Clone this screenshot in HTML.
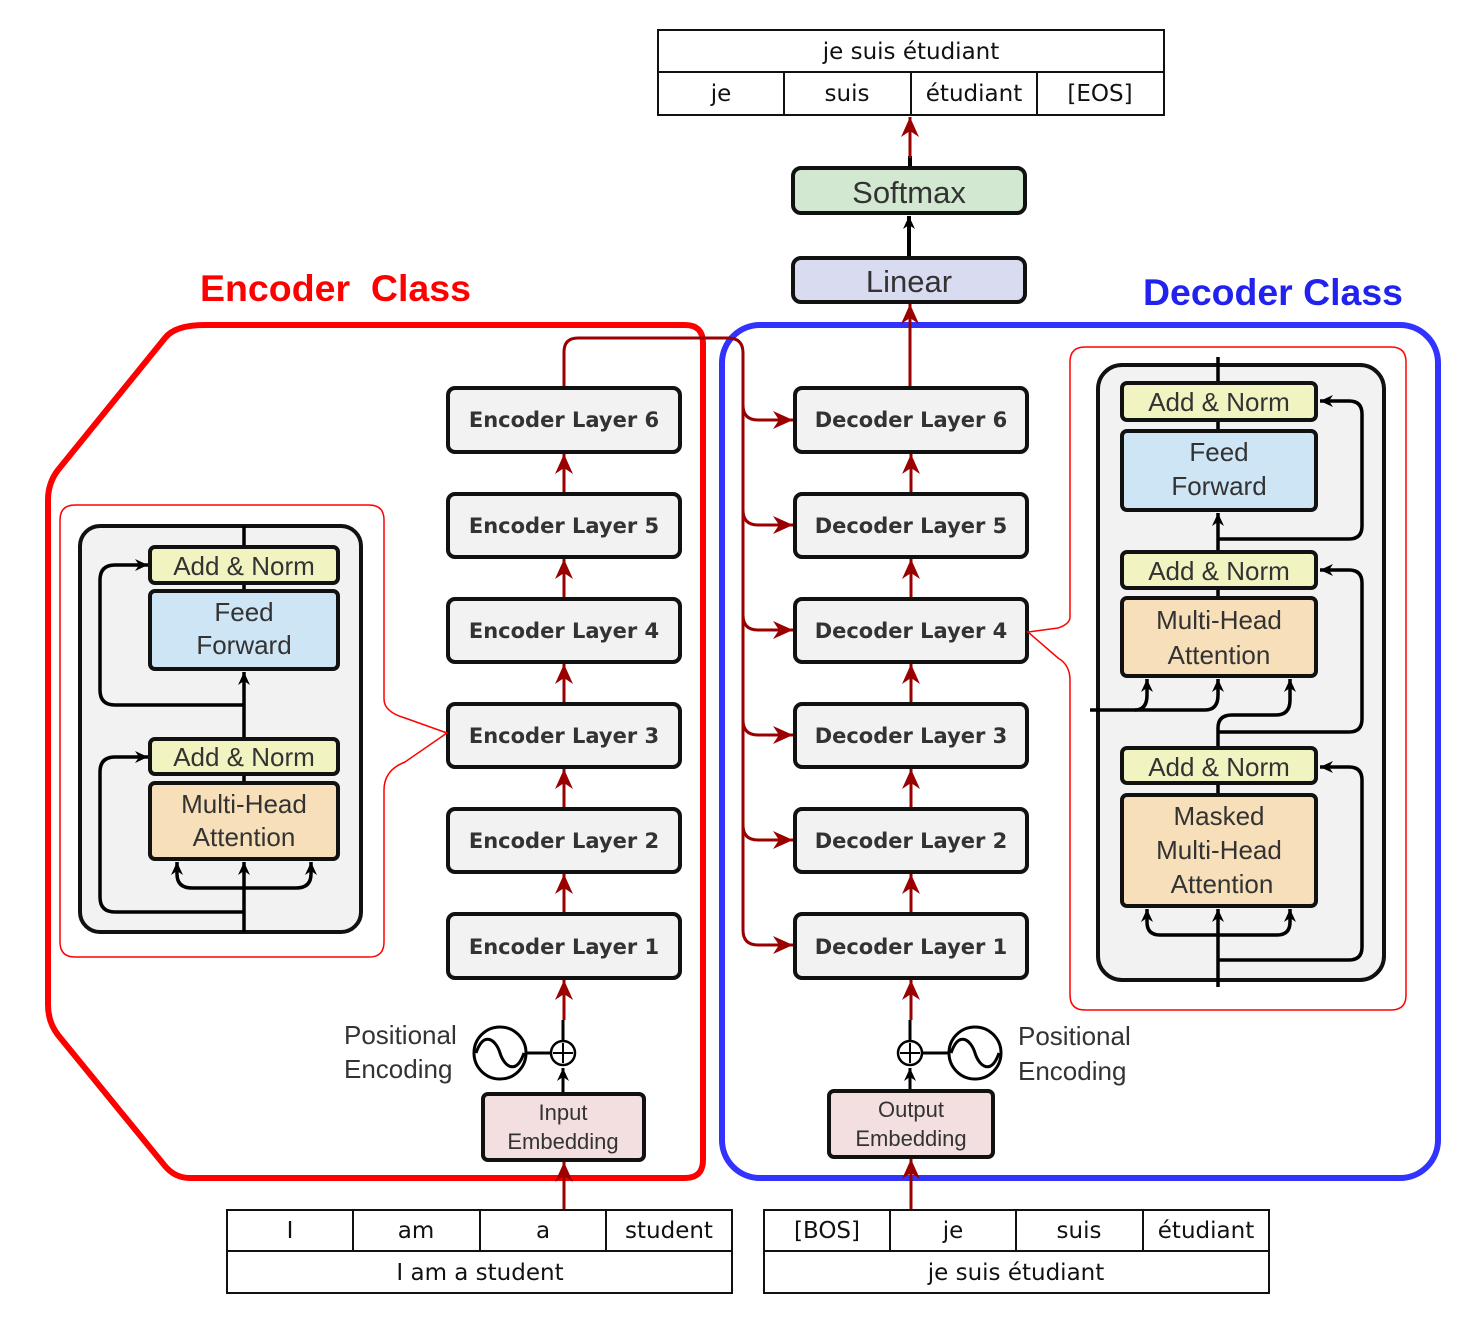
<!DOCTYPE html>
<html><head><meta charset="utf-8"><style>
html,body{margin:0;padding:0;background:#fff;}
svg{display:block;}
.tb{font-family:"DejaVu Sans","Liberation Sans",sans-serif;font-size:23px;fill:#111;text-anchor:middle;}
.ly{font-family:"DejaVu Sans","Liberation Sans",sans-serif;font-weight:bold;font-size:21px;fill:#333;text-anchor:middle;}
.hv{font-family:"Liberation Sans",sans-serif;fill:#333;text-anchor:middle;}
</style></head><body>
<svg width="1472" height="1328" viewBox="0 0 1472 1328" xmlns="http://www.w3.org/2000/svg">
<defs>
<marker id="ra" viewBox="-22 -11 24 22" refX="0" refY="0" markerWidth="24" markerHeight="22" orient="auto" markerUnits="userSpaceOnUse"><path d="M0,0 L-20,-9 L-14,0 L-20,9 z" fill="#9b0000"/></marker>
<marker id="ba" viewBox="-14 -7 16 14" refX="0" refY="0" markerWidth="16" markerHeight="14" orient="auto" markerUnits="userSpaceOnUse"><path d="M0,0 L-13,-6 L-9,0 L-13,6 z" fill="#000"/></marker>
</defs>

<g fill="none" stroke="#111" stroke-width="2">
<rect x="658" y="30" width="506" height="85"/>
<line x1="658" y1="72" x2="1164" y2="72"/>
<line x1="784" y1="72" x2="784" y2="115"/><line x1="911" y1="72" x2="911" y2="115"/><line x1="1037" y1="72" x2="1037" y2="115"/>
</g>
<text class="tb" x="911" y="59">je suis étudiant</text>
<text class="tb" x="721" y="101">je</text><text class="tb" x="847" y="101">suis</text><text class="tb" x="974" y="101">étudiant</text><text class="tb" x="1100" y="101">[EOS]</text>

<line x1="910" y1="168" x2="910" y2="156" stroke="#000" stroke-width="4"/>
<line x1="910" y1="158" x2="910" y2="117" stroke="#9b0000" stroke-width="3" marker-end="url(#ra)"/>
<rect x="793" y="168" width="232" height="45" rx="8" fill="#d3e8d0" stroke="#111" stroke-width="4"/>
<text class="hv" x="909" y="203" font-size="31">Softmax</text>
<line x1="909" y1="258" x2="909" y2="216" stroke="#000" stroke-width="4" marker-end="url(#ba)"/>
<rect x="793" y="258" width="232" height="44" rx="8" fill="#d9dbf0" stroke="#111" stroke-width="4"/>
<text class="hv" x="909" y="292" font-size="31">Linear</text>

<text x="200" y="301" textLength="271" lengthAdjust="spacingAndGlyphs" font-family="Liberation Sans,sans-serif" font-weight="bold" font-size="37" fill="#ff0000">Encoder&#160; Class</text>
<text x="1143" y="305" textLength="260" lengthAdjust="spacingAndGlyphs" font-family="Liberation Sans,sans-serif" font-weight="bold" font-size="37" fill="#2222ee">Decoder Class</text>

<path d="M205,325 H685 Q703,325 703,343 V1160 Q703,1178 685,1178 H190 Q175,1178 165,1166 L58,1035 Q48,1022 48,1005 V500 Q48,483 58,470 L165,338 Q175,325 205,325 Z" fill="none" stroke="#ff0000" stroke-width="6"/>
<rect x="722" y="325" width="716" height="853" rx="38" fill="none" stroke="#3333ff" stroke-width="6"/>

<g fill="none" stroke="#9b0000" stroke-width="3">
<path d="M564,388 V352 Q564,338 578,338 H728 Q743,338 743,353 V930 Q743,945 758,945 H793" marker-end="url(#ra)"/>
<path d="M743,405 Q743,420 758,420 H793" marker-end="url(#ra)"/>
<path d="M743,510 Q743,525 758,525 H793" marker-end="url(#ra)"/>
<path d="M743,615 Q743,630 758,630 H793" marker-end="url(#ra)"/>
<path d="M743,720 Q743,735 758,735 H793" marker-end="url(#ra)"/>
<path d="M743,825 Q743,840 758,840 H793" marker-end="url(#ra)"/>
<path d="M564,494 V454" marker-end="url(#ra)"/><path d="M564,599 V559" marker-end="url(#ra)"/><path d="M564,704 V664" marker-end="url(#ra)"/><path d="M564,809 V769" marker-end="url(#ra)"/><path d="M564,914 V874" marker-end="url(#ra)"/>
<path d="M911,494 V454" marker-end="url(#ra)"/><path d="M911,599 V559" marker-end="url(#ra)"/><path d="M911,704 V664" marker-end="url(#ra)"/><path d="M911,809 V769" marker-end="url(#ra)"/><path d="M911,914 V874" marker-end="url(#ra)"/>
<path d="M910,388 V304" marker-end="url(#ra)"/>
<path d="M564,1020 V980" marker-end="url(#ra)"/><path d="M911,1020 V980" marker-end="url(#ra)"/>
<path d="M564,1210 V1162" marker-end="url(#ra)"/><path d="M911,1210 V1159" marker-end="url(#ra)"/>
</g>

<g fill="#f2f2f2" stroke="#111" stroke-width="4">
<rect x="448" y="388" width="232" height="64" rx="7"/><rect x="448" y="494" width="232" height="63" rx="7"/><rect x="448" y="599" width="232" height="63" rx="7"/><rect x="448" y="704" width="232" height="63" rx="7"/><rect x="448" y="809" width="232" height="63" rx="7"/><rect x="448" y="914" width="232" height="64" rx="7"/>
<rect x="795" y="388" width="232" height="64" rx="7"/><rect x="795" y="494" width="232" height="63" rx="7"/><rect x="795" y="599" width="232" height="63" rx="7"/><rect x="795" y="704" width="232" height="63" rx="7"/><rect x="795" y="809" width="232" height="63" rx="7"/><rect x="795" y="914" width="232" height="64" rx="7"/>
</g>
<text class="ly" x="564" y="427">Encoder Layer 6</text><text class="ly" x="564" y="533">Encoder Layer 5</text><text class="ly" x="564" y="638">Encoder Layer 4</text><text class="ly" x="564" y="743">Encoder Layer 3</text><text class="ly" x="564" y="848">Encoder Layer 2</text><text class="ly" x="564" y="954">Encoder Layer 1</text>
<text class="ly" x="911" y="427">Decoder Layer 6</text><text class="ly" x="911" y="533">Decoder Layer 5</text><text class="ly" x="911" y="638">Decoder Layer 4</text><text class="ly" x="911" y="743">Decoder Layer 3</text><text class="ly" x="911" y="848">Decoder Layer 2</text><text class="ly" x="911" y="954">Decoder Layer 1</text>

<path d="M384,699 V520 Q384,505 369,505 H75 Q60,505 60,520 V942 Q60,957 75,957 H369 Q384,957 384,942 V790 Q384,770 405,762 L447,733 L405,718 Q384,712 384,699" fill="none" stroke="#ff0000" stroke-width="1.5"/>
<rect x="80" y="526" width="281" height="406" rx="20" fill="#f2f2f2" stroke="#111" stroke-width="4"/>
<g fill="none" stroke="#000" stroke-width="3.5">
<line x1="244" y1="526" x2="244" y2="547"/><line x1="244" y1="583" x2="244" y2="591"/>
<line x1="244" y1="739" x2="244" y2="672" marker-end="url(#ba)"/><line x1="244" y1="774" x2="244" y2="783"/>
<line x1="244" y1="932" x2="244" y2="862" marker-end="url(#ba)"/>
<path d="M244,912 H115 Q100,912 100,897 V772 Q100,757 115,757 H148" marker-end="url(#ba)"/>
<path d="M244,705 H115 Q100,705 100,690 V580 Q100,565 115,565 H148" marker-end="url(#ba)"/>
<path d="M244,888 H192 Q177,888 177,874 V862" marker-end="url(#ba)"/>
<path d="M244,888 H296 Q311,888 311,874 V862" marker-end="url(#ba)"/>
</g>
<g stroke="#111" stroke-width="4">
<rect x="150" y="547" width="188" height="36" rx="5" fill="#f1f4c0"/>
<rect x="150" y="591" width="188" height="78" rx="5" fill="#cde5f4"/>
<rect x="150" y="739" width="188" height="35" rx="5" fill="#f1f4c0"/>
<rect x="150" y="783" width="188" height="76" rx="5" fill="#f6dfb9"/>
</g>
<text class="hv" x="244" y="575" font-size="26">Add &amp; Norm</text>
<text class="hv" x="244" y="621" font-size="26">Feed</text><text class="hv" x="244" y="654" font-size="26">Forward</text>
<text class="hv" x="244" y="766" font-size="26">Add &amp; Norm</text>
<text class="hv" x="244" y="813" font-size="26">Multi-Head</text><text class="hv" x="244" y="846" font-size="26">Attention</text>

<path d="M1070,617 V362 Q1070,347 1085,347 H1391 Q1406,347 1406,362 V995 Q1406,1010 1391,1010 H1085 Q1070,1010 1070,995 V680 Q1070,665 1058,658 L1028,632 L1058,628 Q1070,624 1070,617" fill="none" stroke="#ff0000" stroke-width="1.5"/>
<rect x="1098" y="365" width="286" height="615" rx="24" fill="#f2f2f2" stroke="#111" stroke-width="4"/>
<g fill="none" stroke="#000" stroke-width="3.5">
<line x1="1218" y1="357" x2="1218" y2="383"/><line x1="1218" y1="420" x2="1218" y2="431"/>
<line x1="1218" y1="552" x2="1218" y2="513" marker-end="url(#ba)"/><line x1="1218" y1="588" x2="1218" y2="598"/>
<line x1="1218" y1="783" x2="1218" y2="795"/>
<line x1="1218" y1="987" x2="1218" y2="909" marker-end="url(#ba)"/>
<path d="M1218,539 H1349 Q1362,539 1362,526 V414 Q1362,401 1349,401 H1320" marker-end="url(#ba)"/>
<path d="M1218,748 V728 Q1218,715 1232,715 H1276 Q1290,715 1290,700 V679" marker-end="url(#ba)"/>
<path d="M1218,732 H1349 Q1362,732 1362,719 V583 Q1362,570 1349,570 H1320" marker-end="url(#ba)"/>
<path d="M1090,710 H1135 Q1147,710 1147,695 V679" marker-end="url(#ba)"/>
<path d="M1135,710 H1205 Q1218,710 1218,695 V679" marker-end="url(#ba)"/>
<path d="M1218,960 H1349 Q1362,960 1362,947 V780 Q1362,767 1349,767 H1320" marker-end="url(#ba)"/>
<path d="M1218,935 H1160 Q1147,935 1147,922 V909" marker-end="url(#ba)"/>
<path d="M1218,935 H1277 Q1290,935 1290,922 V909" marker-end="url(#ba)"/>
</g>
<g stroke="#111" stroke-width="4">
<rect x="1122" y="383" width="194" height="37" rx="5" fill="#f1f4c0"/>
<rect x="1122" y="431" width="194" height="79" rx="5" fill="#cde5f4"/>
<rect x="1122" y="552" width="194" height="36" rx="5" fill="#f1f4c0"/>
<rect x="1122" y="598" width="194" height="78" rx="5" fill="#f6dfb9"/>
<rect x="1122" y="748" width="194" height="35" rx="5" fill="#f1f4c0"/>
<rect x="1122" y="795" width="194" height="111" rx="5" fill="#f6dfb9"/>
</g>
<text class="hv" x="1219" y="411" font-size="26">Add &amp; Norm</text>
<text class="hv" x="1219" y="461" font-size="26">Feed</text><text class="hv" x="1219" y="495" font-size="26">Forward</text>
<text class="hv" x="1219" y="580" font-size="26">Add &amp; Norm</text>
<text class="hv" x="1219" y="629" font-size="26">Multi-Head</text><text class="hv" x="1219" y="664" font-size="26">Attention</text>
<text class="hv" x="1219" y="776" font-size="26">Add &amp; Norm</text>
<text class="hv" x="1219" y="825" font-size="26">Masked</text><text class="hv" x="1219" y="859" font-size="26">Multi-Head</text><text class="hv" x="1222" y="893" font-size="26">Attention</text>

<g fill="none" stroke="#000" stroke-width="3">
<line x1="563" y1="1041" x2="563" y2="1020"/>
<line x1="563" y1="1094" x2="563" y2="1068" marker-end="url(#ba)"/>
<line x1="526" y1="1053" x2="551" y2="1053"/>
<circle cx="500" cy="1053" r="26"/>
<path d="M476,1053 C484,1030 496,1040 500,1053 C504,1066 516,1076 524,1053"/>
<circle cx="563" cy="1053" r="12" stroke-width="2.5"/>
<line x1="563" y1="1043" x2="563" y2="1063" stroke-width="2"/><line x1="553" y1="1053" x2="573" y2="1053" stroke-width="2"/>
<line x1="910" y1="1041" x2="910" y2="1020"/>
<line x1="910" y1="1091" x2="910" y2="1068" marker-end="url(#ba)"/>
<line x1="922" y1="1053" x2="949" y2="1053"/>
<circle cx="975" cy="1053" r="26"/>
<path d="M951,1053 C959,1030 971,1040 975,1053 C979,1066 991,1076 999,1053"/>
<circle cx="910" cy="1053" r="12" stroke-width="2.5"/>
<line x1="910" y1="1043" x2="910" y2="1063" stroke-width="2"/><line x1="900" y1="1053" x2="920" y2="1053" stroke-width="2"/>
</g>
<text x="344" y="1044" font-family="Liberation Sans,sans-serif" font-size="26" fill="#333">Positional</text>
<text x="344" y="1078" font-family="Liberation Sans,sans-serif" font-size="26" fill="#333">Encoding</text>
<text x="1018" y="1045" font-family="Liberation Sans,sans-serif" font-size="26" fill="#333">Positional</text>
<text x="1018" y="1080" font-family="Liberation Sans,sans-serif" font-size="26" fill="#333">Encoding</text>
<rect x="483" y="1094" width="161" height="66" rx="5" fill="#f3dfe0" stroke="#111" stroke-width="4"/>
<text class="hv" x="563" y="1120" font-size="22">Input</text><text class="hv" x="563" y="1149" font-size="22">Embedding</text>
<rect x="829" y="1091" width="164" height="66" rx="5" fill="#f3dfe0" stroke="#111" stroke-width="4"/>
<text class="hv" x="911" y="1117" font-size="22">Output</text><text class="hv" x="911" y="1146" font-size="22">Embedding</text>

<g fill="none" stroke="#111" stroke-width="2">
<rect x="227" y="1210" width="505" height="83"/><line x1="227" y1="1251" x2="732" y2="1251"/>
<line x1="353" y1="1210" x2="353" y2="1251"/><line x1="480" y1="1210" x2="480" y2="1251"/><line x1="606" y1="1210" x2="606" y2="1251"/>
<rect x="764" y="1210" width="505" height="83"/><line x1="764" y1="1251" x2="1269" y2="1251"/>
<line x1="890" y1="1210" x2="890" y2="1251"/><line x1="1016" y1="1210" x2="1016" y2="1251"/><line x1="1143" y1="1210" x2="1143" y2="1251"/>
</g>
<text class="tb" x="290" y="1238">I</text><text class="tb" x="416" y="1238">am</text><text class="tb" x="543" y="1238">a</text><text class="tb" x="669" y="1238">student</text>
<text class="tb" x="480" y="1280">I am a student</text>
<text class="tb" x="827" y="1238">[BOS]</text><text class="tb" x="953" y="1238">je</text><text class="tb" x="1079" y="1238">suis</text><text class="tb" x="1206" y="1238">étudiant</text>
<text class="tb" x="1016" y="1280">je suis étudiant</text>
</svg>
</body></html>
